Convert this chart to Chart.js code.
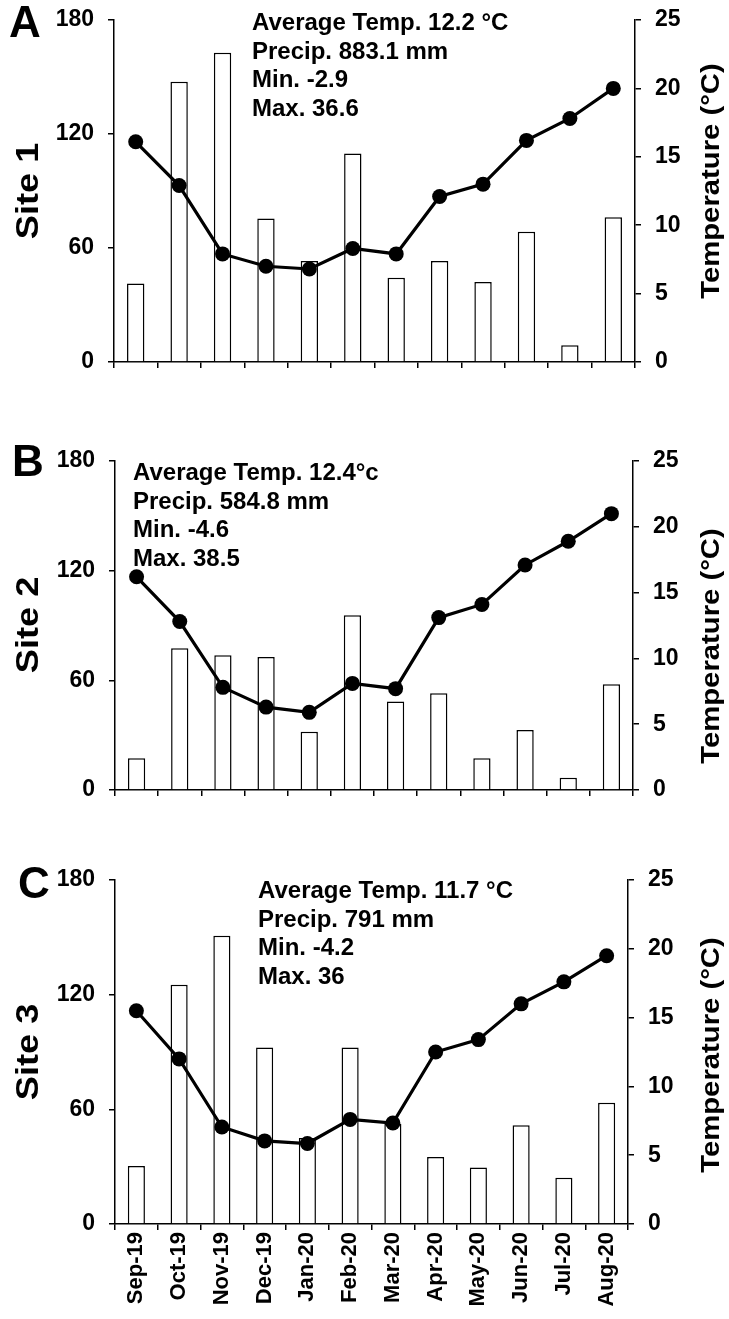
<!DOCTYPE html>
<html>
<head>
<meta charset="utf-8">
<script src="https://cdn.jsdelivr.net/npm/chart.js@4.4.0/dist/chart.umd.min.js"></script>
<style>
  html, body { margin:0; padding:0; background:#fff; }
  #wrap { position:relative; width:729px; height:1319px; background:#fff; overflow:hidden;
          font-family:'Liberation Sans', Arial, Helvetica, sans-serif; color:#000; }
  canvas { position:absolute; left:0; }
  .t { position:absolute; font-weight:bold; white-space:pre; }
  .letter { font-size:44px; line-height:44px; }
  .note { font-size:24px; line-height:28.7px; }
  .rot { line-height:1; transform-origin:50% 50%; }
</style>
</head>
<body>
<div id="wrap">
  <canvas id="cA" width="729" height="398" style="top:-8px"></canvas>
  <canvas id="cB" width="729" height="385" style="top:433px"></canvas>
  <canvas id="cC" width="729" height="467" style="top:852px"></canvas>

  <div class="t letter" style="left:9px;top:0px">A</div>
  <div class="t letter" style="left:12px;top:439px">B</div>
  <div class="t letter" style="left:18px;top:861px">C</div>

  <div class="t note" style="left:252px;top:8px">Average Temp. 12.2 °C
Precip. 883.1 mm
Min. -2.9
Max. 36.6</div>
  <div class="t note" style="left:133px;top:458px">Average Temp. 12.4°c
Precip. 584.8 mm
Min. -4.6
Max. 38.5</div>
  <div class="t note" style="left:258px;top:876px">Average Temp. 11.7 °C
Precip. 791 mm
Min. -4.2
Max. 36</div>

  <div class="t rot" style="font-size:32px;left:27px;top:191px;transform:translate(-50%,-50%) rotate(-90deg) scaleX(1.13)">Site 1</div>
  <div class="t rot" style="font-size:32px;left:27px;top:625px;transform:translate(-50%,-50%) rotate(-90deg) scaleX(1.13)">Site 2</div>
  <div class="t rot" style="font-size:32px;left:27px;top:1052px;transform:translate(-50%,-50%) rotate(-90deg) scaleX(1.13)">Site 3</div>

  <div class="t rot" style="font-size:25px;left:710px;top:181px;transform:translate(-50%,-50%) rotate(-90deg) scaleX(1.17)">Temperature (°C)</div>
  <div class="t rot" style="font-size:25px;left:710px;top:646px;transform:translate(-50%,-50%) rotate(-90deg) scaleX(1.17)">Temperature (°C)</div>
  <div class="t rot" style="font-size:25px;left:710px;top:1055px;transform:translate(-50%,-50%) rotate(-90deg) scaleX(1.17)">Temperature (°C)</div>
</div>
<script>
const months = ['Sep-19','Oct-19','Nov-19','Dec-19','Jan-20','Feb-20','Mar-20','Apr-20','May-20','Jun-20','Jul-20','Aug-20'];

const precipSite1 = [41.3, 147.5, 162.8, 75.5, 53.2, 109.8, 44.3, 53.2, 42.1, 68.5, 8.8, 76.2];
const tempSite1   = [16.1, 12.9, 7.9, 7.0, 6.8, 8.3, 7.9, 12.1, 13.0, 16.2, 17.8, 20.0];

const precipSite2 = [17.4, 77.6, 73.7, 72.7, 31.9, 95.6, 48.4, 52.9, 17.4, 32.8, 6.7, 57.8];
const tempSite2   = [16.2, 12.8, 7.8, 6.3, 5.9, 8.1, 7.7, 13.1, 14.1, 17.1, 18.9, 21.0];

const precipSite3 = [30.3, 125.2, 150.8, 92.3, 45.0, 92.3, 52.5, 35.1, 29.6, 51.7, 24.2, 63.5];
const tempSite3   = [15.5, 12.0, 7.05, 6.04, 5.85, 7.6, 7.34, 12.5, 13.4, 16.0, 17.6, 19.5];

const precipTicks = [0, 60, 120, 180];
const tempTicks   = [0, 5, 10, 15, 20, 25];

const FONT = "'Liberation Sans', Arial, Helvetica, sans-serif";
const tickFont = { family: FONT, size: 23, weight: 'bold' };
const xFont = { family: FONT, size: 22, weight: 'bold' };

function makeChart(id, precip, temp, showLabels, lay) {
  const axisGrid = { drawOnChartArea:false, drawTicks:true, tickLength:6, color:'#000', lineWidth:1.5 };
  const axisBorder = { display:true, color:'#000', width:1.5 };
  new Chart(document.getElementById(id), {
    type: 'bar',
    data: {
      labels: months,
      datasets: [
        { type:'line', label:'Temperature', data: temp, yAxisID:'yT', order:0,
          borderColor:'#000', borderWidth:3.2, tension:0,
          pointRadius:7.5, pointBackgroundColor:'#000', pointBorderColor:'#000', pointBorderWidth:0 },
        { type:'bar', label:'Precipitation', data: precip, yAxisID:'yP', order:1,
          backgroundColor:'#fff', borderColor:'#000', borderWidth:1.5,
          barPercentage:0.4, categoryPercentage:1 }
      ]
    },
    options: {
      responsive:false, animation:false, events:[],
      layout: { padding: { top: 28, left:0, right:0, bottom:0 } },
      plugins: { legend:{display:false}, tooltip:{enabled:false} },
      scales: {
        x: {
          offset:true,
          grid: Object.assign({ offset:true }, axisGrid),
          border: axisBorder,
          ticks: { display: showLabels, autoSkip:false, maxRotation:90, minRotation:90, padding:2, color:'#000', font: xFont },
          afterFit: s => { s.height = lay.xh; }
        },
        yP: {
          position:'left', min:0, max:180,
          afterBuildTicks: s => { s.ticks = precipTicks.map(v => ({ value:v })); },
          ticks: { padding:14, color:'#000', font: tickFont },
          grid: axisGrid, border: axisBorder,
          afterFit: s => { s.width = lay.left; }
        },
        yT: {
          position:'right', min:0, max:25,
          afterBuildTicks: s => { s.ticks = tempTicks.map(v => ({ value:v })); },
          ticks: { padding:14, color:'#000', font: tickFont },
          grid: axisGrid, border: axisBorder,
          afterFit: s => { s.width = 729 - lay.right; }
        }
      }
    }
  });
}

makeChart('cA', precipSite1, tempSite1, false, { xh:28, left:114, right:635 });
makeChart('cB', precipSite2, tempSite2, false, { xh:28, left:115, right:633 });
makeChart('cC', precipSite3, tempSite3, true,  { xh:95, left:115, right:628 });
</script>
</body>
</html>
